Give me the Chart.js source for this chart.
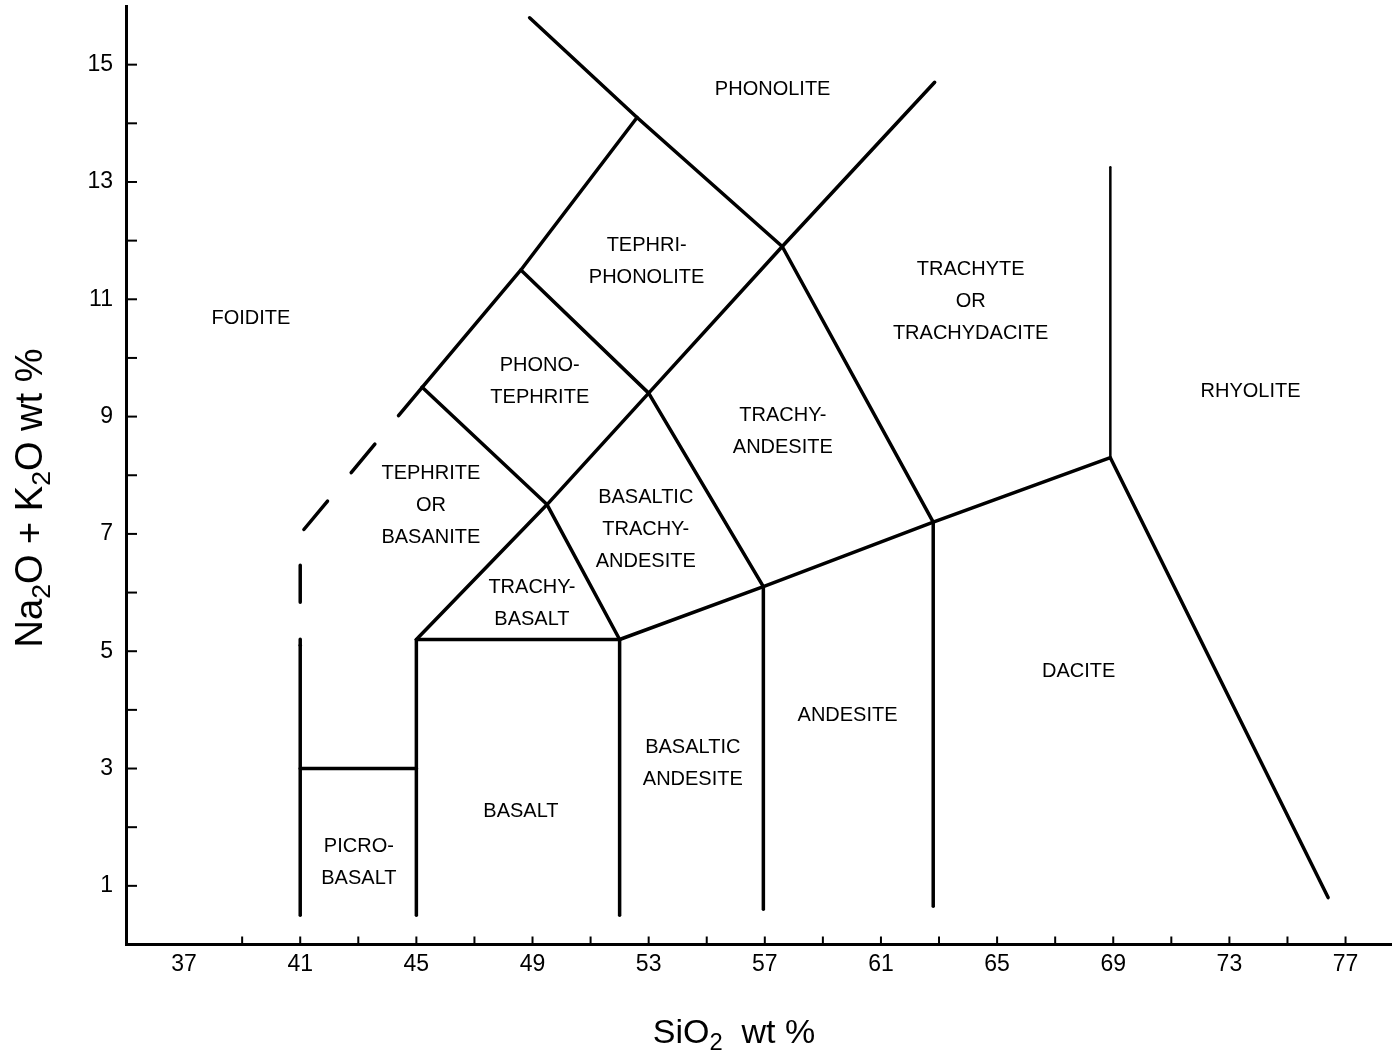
<!DOCTYPE html>
<html>
<head>
<meta charset="utf-8">
<script src="https://cdn.jsdelivr.net/npm/chart.js@4.4.1/dist/chart.umd.min.js"></script>
<style>
html,body{margin:0;padding:0;background:#fff}
</style>
</head>
<body>
<canvas id="TASchart" width="1392" height="1059"></canvas>
<script>
let TAS

const FONT='"Liberation Sans", Arial, Helvetica, sans-serif'

// tick labels and tick marks
const xLabels=[37,41,45,49,53,57,61,65,69,73,77]
const yLabels=[1,3,5,7,9,11,13,15]
const xMarks=[39,41,43,45,47,49,51,53,55,57,59,61,63,65,67,69,71,73,75,77]
const yMarks=[1,2,3,4,5,6,7,8,9,10,11,12,13,14,15]

// field boundaries  [SiO2, Na2O+K2O]
const foiditeSolid=[[41,0.5],[41,5.1]]
const foiditeDashed=[[45.2,9.5],[41,7],[41,5.1]]
const picroTop=[[41,3],[45,3]]
const basaltLeft=[[45,0.5],[45,5.2]]
const basaltTop=[[45,5.2],[52,5.2]]
const basaltRight=[[52,0.5],[52,5.2]]
const andesiteTop=[[52,5.2],[56.95,6.1],[62.8,7.2],[68.9,8.3],[76.4,0.8]]
const basAndesiteRight=[[56.95,0.6],[56.95,6.1]]
const andesiteRight=[[62.8,0.65],[62.8,7.2]]
const trachyLine=[[45,5.2],[49.5,7.5],[53,9.4],[57.6,11.9],[62.85,14.7]]
const tephriteRight=[[45.2,9.5],[49.5,7.5],[52,5.2]]
const phonoTephRight=[[48.6,11.5],[53,9.4],[56.95,6.1]]
const leftEdge=[[45.2,9.5],[48.6,11.5],[52.6,14.1]]
const phonoliteEdge=[[48.9,15.8],[52.6,14.1],[57.6,11.9],[62.8,7.2]]
const rhyoliteLine=[[68.9,8.3],[68.9,13.25]]

const solidLines=[foiditeSolid,picroTop,basaltLeft,basaltTop,basaltRight,andesiteTop,basAndesiteRight,andesiteRight,trachyLine,tephriteRight,phonoTephRight,leftEdge,phonoliteEdge]

// field names
const fieldNames=[['PHONOLITE'],['TEPHRI-','PHONOLITE'],['FOIDITE'],['PHONO-','TEPHRITE'],['TRACHYTE','OR','TRACHYDACITE'],['TRACHY-','ANDESITE'],['RHYOLITE'],['TEPHRITE','OR','BASANITE'],['BASALTIC','TRACHY-','ANDESITE'],['TRACHY-','BASALT'],['DACITE'],['ANDESITE'],['BASALTIC','ANDESITE'],['BASALT'],['PICRO-','BASALT']]
const fieldX=[57.27,52.93,39.3,49.25,64.09,57.62,73.73,45.5,52.9,48.98,67.81,59.85,54.52,48.6,43.02]
const fieldY=[14.57,11.64,10.68,9.6,10.97,8.74,9.42,7.48,7.07,5.81,4.65,3.9,3.08,2.26,1.39]

function toPts(arr){return arr.map(p=>({x:p[0],y:p[1]}))}

function lineSet(arr,w,dash){
return {data:toPts(arr),showLine:true,borderColor:'#000',borderWidth:w,pointRadius:0,borderDash:dash||[],borderCapStyle:'round',borderJoinStyle:'round',fill:false}
}

// text with subscripts, parts = [text, isSub]
function richWidth(ctx,parts,size){
let w=0
parts.forEach(p=>{ctx.font=(p[1]?size*0.7:size)+'px '+FONT;w+=ctx.measureText(p[0]).width})
return w
}
function drawRich(ctx,parts,size,x,y){
let cx=x
parts.forEach(p=>{
	ctx.font=(p[1]?size*0.7:size)+'px '+FONT
	ctx.fillText(p[0],cx,p[1]?y+size*0.22:y)
	cx+=ctx.measureText(p[0]).width
})
}

const yTitle=[['Na',0],['2',1],['O + K',0],['2',1],['O wt %',0]]
const xTitle=[['SiO',0],['2',1],['  wt %',0]]

const tasDecor={
id:'tasDecor',
afterDraw(chart){
	const ctx=chart.ctx
	const xs=chart.scales.x, ys=chart.scales.y
	const area=chart.chartArea
	ctx.save()
	ctx.strokeStyle='#000'
	ctx.fillStyle='#000'
	ctx.lineWidth=2
	// inward tick marks
	xMarks.forEach(v=>{const p=xs.getPixelForValue(v);ctx.beginPath();ctx.moveTo(p,area.bottom);ctx.lineTo(p,area.bottom-8);ctx.stroke()})
	yMarks.forEach(v=>{const p=ys.getPixelForValue(v);ctx.beginPath();ctx.moveTo(area.left,p);ctx.lineTo(area.left+11,p);ctx.stroke()})
	// field labels
	ctx.font='20px '+FONT
	ctx.textAlign='center'
	ctx.textBaseline='middle'
	fieldNames.forEach((lines,i)=>{
		const px=xs.getPixelForValue(fieldX[i]), py=ys.getPixelForValue(fieldY[i])
		const top=py-(lines.length-1)*32/2
		lines.forEach((t,j)=>ctx.fillText(t,px,top+j*32))
	})
	// axis titles
	ctx.textAlign='left'
	ctx.textBaseline='alphabetic'
	let w=richWidth(ctx,xTitle,34)
	drawRich(ctx,xTitle,34,734-w/2,1043)
	ctx.translate(42,498)
	ctx.rotate(-Math.PI/2)
	w=richWidth(ctx,yTitle,38)
	drawRich(ctx,yTitle,38,-w/2,0)
	ctx.restore()
}
}

// chart area is fixed: no extra room for edge labels
function noEdgePad(s){s.paddingTop=0;s.paddingBottom=0;s.paddingLeft=0;s.paddingRight=0}

function LoadTAS(){
const sets=solidLines.map(l=>lineSet(l,3.5))
sets.push(lineSet(foiditeDashed,3.5,[37,37]))
sets.push(lineSet(rhyoliteLine,2.5))
TAS=new Chart(document.getElementById('TASchart'),{
	type:'scatter',
	data:{datasets:sets},
	options:{
		responsive:false,
		animation:false,
		devicePixelRatio:1,
		layout:{padding:{top:6,left:0,right:0,bottom:0}},
		plugins:{legend:{display:false},tooltip:{enabled:false}},
		scales:{
			x:{type:'linear',min:35,max:78.6,
				afterBuildTicks:s=>{s.ticks=xLabels.map(v=>({value:v}))},
				afterFit:s=>{s.height=114.5;noEdgePad(s)},
				ticks:{color:'#000',font:{family:FONT,size:23},padding:6,maxRotation:0,autoSkip:false},
				grid:{display:true,drawOnChartArea:false,drawTicks:false},
				border:{display:true,color:'#000',width:3}},
			y:{type:'linear',min:0,max:16,
				afterBuildTicks:s=>{s.ticks=yLabels.map(v=>({value:v}))},
				afterFit:s=>{s.width=126;noEdgePad(s)},
				ticks:{color:'#000',font:{family:FONT,size:23},padding:13,autoSkip:false},
				grid:{display:true,drawOnChartArea:false,drawTicks:false},
				border:{display:true,color:'#000',width:3}}
		}
	},
	plugins:[tasDecor]
})
}

LoadTAS()
</script>
</body>
</html>
